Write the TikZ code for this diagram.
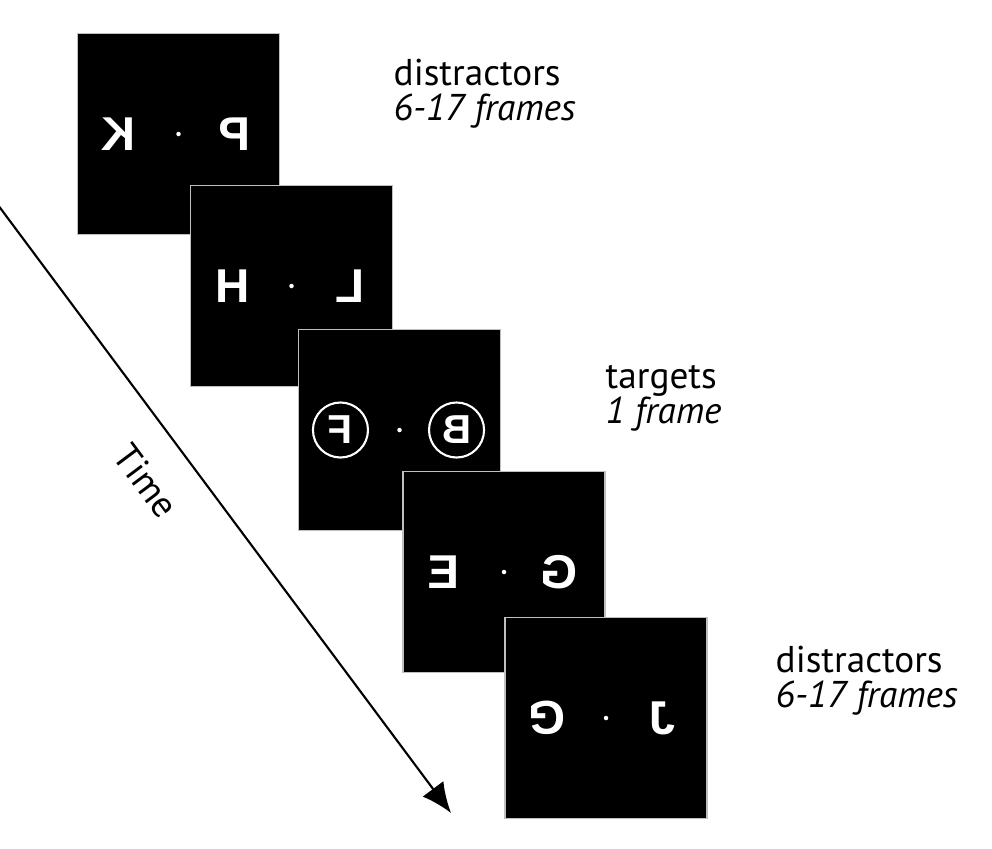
\documentclass[tikz,border=0pt]{standalone}
\usepackage{fontspec}
\usepackage{graphicx}
\setmainfont{PT Sans}
\newfontfamily\stimfont{Liberation Sans}
\usetikzlibrary{arrows.meta}
\begin{document}
\begin{tikzpicture}
        [x=0.01cm, y=-0.01cm,
        frame/.style={rectangle, minimum width=2.02cm, minimum height=2.01cm, fill=black, draw=black!25, line width=0.5pt},
        stim/.style={text=white, inner sep=0pt, font=\stimfont\bfseries\fontsize{13.5}{14}\selectfont},
        ringstim/.style={stim, font=\stimfont\bfseries\fontsize{11.5}{12}\selectfont},
        ring/.style={circle, draw=white, line width=0.6pt, minimum size=0.55cm, inner sep=0pt},
        fix/.style={circle, fill=white, inner sep=0pt, minimum size=0.045cm},
        lbl/.style={anchor=base west, inner sep=0pt, font=\fontsize{10.6}{12}\selectfont},
        timeline/.style={line width=0.6pt, -{Latex[length=0.3cm, width=0.26cm]}}]
        \useasboundingbox (0,0) rectangle (992,848);
        \node[frame] (f1) at (178.5,134) {};
        \node[fix] (d1) at (f1) {};
        \node[stim, xshift=-0.6cm] (k) at (f1) {\reflectbox{K}};
        \node[stim, xshift=0.56cm] (p) at (f1) {\reflectbox{P}};
        \node[frame] (f2) at (291.5,286) {};
        \node[fix] (d2) at (f2) {};
        \node[stim, xshift=-0.59cm] (h) at (f2) {H};
        \node[stim, xshift=0.58cm] (l) at (f2) {\reflectbox{L}};
        \node[frame] (f3) at (399.5,430) {};
        \node[fix] (d3) at (f3) {};
        \node[ring, xshift=-0.59cm] (cf) at (f3) {};
        \node[ring, xshift=0.57cm] (cb) at (f3) {};
        \node[ringstim] (fl) at (cf) {\reflectbox{F}};
        \node[ringstim] (b) at (cb) {\reflectbox{B}};
        \node[frame] (f4) at (504,572) {};
        \node[fix] (d4) at (f4) {};
        \node[stim, xshift=-0.6cm] (e) at (f4) {\reflectbox{E}};
        \node[stim, xshift=0.55cm] (g) at (f4) {\reflectbox{G}};
        \node[frame] (f5) at (606,718) {};
        \node[fix] (d5) at (f5) {};
        \node[stim, xshift=-0.59cm] (g2) at (f5) {\rotatebox{180}{G}};
        \node[stim, xshift=0.56cm] (j) at (f5) {\reflectbox{J}};
        \node[lbl] (dis1) at (393,85) {distractors};
        \node[lbl] (fr1) at (393,120) {\itshape 6-17 frames};
        \node[lbl] (tgt) at (605,388) {targets};
        \node[lbl] (fr2) at (605,423) {\itshape 1 frame};
        \node[lbl] (dis2) at (775,672) {distractors};
        \node[lbl] (fr3) at (775,707) {\itshape 6-17 frames};
        \coordinate (start) at (-2,205);
        \coordinate (stop) at (451,813);
        \draw[timeline] (start) -- (stop);
        \node[rotate=-53.3, inner sep=1pt, font=\fontsize{10.6}{12}\selectfont] (time) at (146,481) {Time};
    \end{tikzpicture}
\end{document}
